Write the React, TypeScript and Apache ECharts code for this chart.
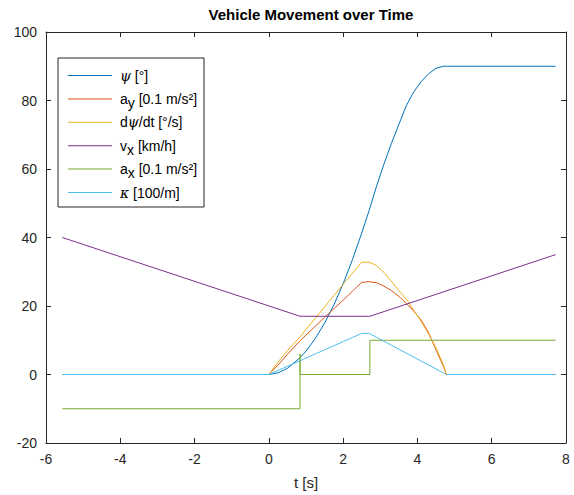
import React, { useEffect, useRef } from "react";
import * as echarts from "echarts";

// Shared time base for the curved signals [s]
const tCurve = [-5.56, 0, 0.25, 0.5, 0.84, 1.0, 1.25, 1.5, 1.75, 2.0, 2.25, 2.5, 2.7, 2.9, 3.1, 3.3, 3.5, 3.7, 3.9, 4.1, 4.3, 4.5, 4.7, 4.78, 7.72];
const psi = [0, 0, 0.5, 1.8, 4.9, 6.8, 10.5, 15.0, 20.3, 26.5, 33.5, 41.3, 47.9, 55.0, 61.5, 67.5, 73.0, 78.5, 82.5, 85.5, 87.8, 89.4, 90, 90, 90];
const ay = [0, 0, 2.8, 5.9, 9.9, 11.5, 14.1, 16.7, 19.2, 21.7, 24.3, 26.9, 27.1, 26.8, 25.8, 24.5, 22.8, 20.8, 18.5, 15.9, 12.2, 7.2, 2.4, 0, 0];
const dpsi = [0, 0, 3.7, 7.0, 11.0, 13.2, 16.4, 19.7, 23.0, 26.3, 29.6, 32.8, 32.8, 31.8, 29.8, 27.2, 24.5, 22.0, 18.8, 15.5, 11.8, 7.8, 2.8, 0, 0];
const kappa = [0, 0, 1.2, 2.4, 4.0, 4.8, 6.0, 7.2, 8.4, 9.6, 10.8, 12.0, 12.0, 10.85, 9.7, 8.54, 7.38, 6.23, 5.08, 3.92, 2.77, 1.62, 0.46, 0, 0];

// Piecewise signals
const tVx = [-5.56, 0.84, 2.72, 7.72];
const vx = [40, 17.0, 17.0, 35];
const tAx = [-5.56, 0.84, 0.84, 0.84, 2.72, 2.72, 7.72];
const ax = [-10, -10, 6, 0, 0, 10, 10];

const xTicks = { min: -6, max: 8, interval: 2 };
const yTicks = { min: -20, max: 100, interval: 20 };

const seriesNames = ["psi", "ay", "dpsi", "vx", "ax", "kappa"];
const seriesColors = ["#0072BD", "#D95319", "#EDB120", "#7E2F8E", "#77AC30", "#4DBEEE"];
const legendLabels: Record<string, string> = {
  psi: "{g|ψ}{t| [°]}",
  ay: "{t|a}{s|y}{t| [0.1 m/s²]}",
  dpsi: "{t|d}{g|ψ}{t|/dt [°/s]}",
  vx: "{t|v}{s|x}{t| [km/h]}",
  ax: "{t|a}{s|x}{t| [0.1 m/s²]}",
  kappa: "{g|κ}{t| [100/m]}",
};

const pairs = (t: number[], v: number[]) => t.map((x, i) => [x, v[i]]);

export default function App() {
  const ref = useRef<HTMLDivElement>(null);
  useEffect(() => {
    if (!ref.current) return;
    document.body.style.margin = "0";
    const chart = echarts.init(ref.current, undefined, { renderer: "svg" });
    const font = "'Liberation Sans', Arial, Helvetica, sans-serif";
    const axisCol = "#262626";
    const dataSets = [
      pairs(tCurve, psi),
      pairs(tCurve, ay),
      pairs(tCurve, dpsi),
      pairs(tVx, vx),
      pairs(tAx, ax),
      pairs(tCurve, kappa),
    ];
    const baseX = {
      type: "value" as const,
      ...xTicks,
      axisLine: { show: true, onZero: false, lineStyle: { color: axisCol, width: 1 } },
      axisTick: { show: true, inside: true, length: 5, lineStyle: { color: axisCol } },
      splitLine: { show: false },
    };
    const baseY = {
      type: "value" as const,
      ...yTicks,
      axisLine: { show: true, onZero: false, lineStyle: { color: axisCol, width: 1 } },
      axisTick: { show: true, inside: true, length: 5, lineStyle: { color: axisCol } },
      splitLine: { show: false },
    };
    chart.setOption({
      animation: false,
      backgroundColor: "#ffffff",
      title: {
        text: "Vehicle Movement over Time",
        left: 306,
        top: 2,
        textAlign: "center",
        textStyle: { fontFamily: font, fontSize: 15, fontWeight: "bold", color: "#000" },
      },
      grid: { left: 46, right: 8, top: 32, bottom: 52, containLabel: false },
      legend: {
        orient: "vertical",
        left: 58,
        top: 58,
        padding: [6, 7, 3, 10],
        itemGap: 0.4,
        itemWidth: 47,
        itemHeight: 23,
        symbolKeepAspect: false,
        icon: "path://M0,11H44V12H0ZM47,0V23",
        backgroundColor: "#ffffff",
        borderColor: axisCol,
        borderWidth: 1,
        borderRadius: 0,
        selectedMode: false,
        data: seriesNames,
        formatter: (name: string) => legendLabels[name],
        textStyle: {
          fontFamily: font,
          fontSize: 14,
          color: "#000",
          lineHeight: 18,
          rich: {
            t: { fontFamily: font, fontSize: 14, lineHeight: 18, color: "#000" },
            g: { fontFamily: "'DejaVu Serif', serif", fontStyle: "italic", fontSize: 14, lineHeight: 18, color: "#000" },
            s: { fontFamily: font, fontSize: 14, lineHeight: 10, padding: [8, 0, 0, 0], color: "#000" },
          },
        },
      },
      xAxis: [
        {
          ...baseX,
          position: "bottom",
          name: "t [s]",
          nameLocation: "middle",
          nameGap: 32,
          nameTextStyle: { fontFamily: font, fontSize: 15, color: axisCol },
          axisLabel: { fontFamily: font, fontSize: 14, color: axisCol, margin: 9 },
        },
        { ...baseX, position: "top", axisLabel: { show: false } },
      ],
      yAxis: [
        {
          ...baseY,
          position: "left",
          axisLabel: { fontFamily: font, fontSize: 14, color: axisCol, margin: 9 },
        },
        { ...baseY, position: "right", axisLabel: { show: false } },
      ],
      series: seriesNames.map((n, i) => ({
        name: n,
        type: "line",
        xAxisIndex: 0,
        yAxisIndex: 0,
        data: dataSets[i],
        showSymbol: false,
        symbol: "none",
        smooth: false,
        lineStyle: { color: seriesColors[i], width: 1 },
        itemStyle: { color: seriesColors[i] },
        emphasis: { disabled: true },
      })),
    });
    return () => chart.dispose();
  }, []);
  return <div ref={ref} style={{ position: "absolute", left: 0, top: 0, width: 574, height: 495 }} />;
}
